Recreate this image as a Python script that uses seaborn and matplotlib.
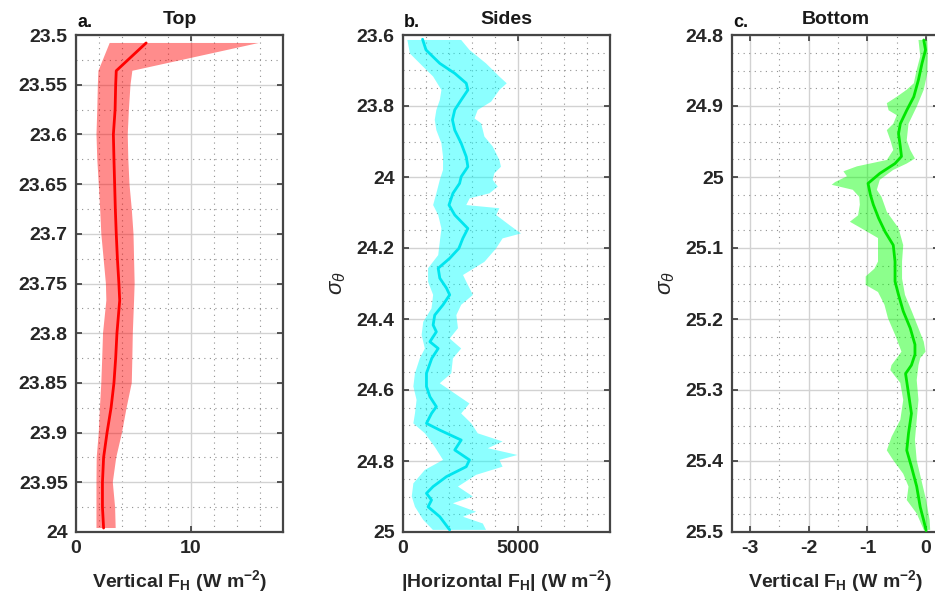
import numpy as np
import pandas as pd
import matplotlib
matplotlib.use("Agg")
import matplotlib.pyplot as plt
import seaborn as sns
from matplotlib.ticker import MultipleLocator, FuncFormatter

# ---------------- data ----------------
# Panel a (Top)
sig_a = [23.508, 23.536, 23.55, 23.575, 23.6, 23.625, 23.65, 23.675, 23.7, 23.725,
         23.75, 23.767, 23.8, 23.825, 23.85, 23.875, 23.9, 23.925, 23.95, 23.975, 23.996]
mean_a = [6.1, 3.5, 3.45, 3.4, 3.25, 3.3, 3.36, 3.42, 3.5, 3.6,
          3.73, 3.8, 3.56, 3.45, 3.3, 3.05, 2.7, 2.4, 2.3, 2.3, 2.4]
lo_a = [2.93, 1.95, 1.9, 1.85, 1.78, 1.85, 1.98, 2.1, 2.2, 2.4,
        2.6, 2.64, 2.35, 2.28, 2.2, 2.08, 1.98, 1.8, 1.78, 1.78, 1.78]
hi_a = [15.9, 4.9, 4.74, 4.6, 4.5, 4.55, 4.65, 4.85, 5.0, 5.05,
        5.1, 5.05, 4.94, 4.9, 4.85, 4.4, 4.0, 3.5, 3.2, 3.4, 3.45]

# Panel b (Sides)
sig_b = [23.612, 23.642, 23.68, 23.708, 23.736, 23.755, 23.783, 23.811, 23.839, 23.868,
         23.905, 23.943, 23.971, 23.999, 24.018, 24.046, 24.079, 24.107, 24.145, 24.173,
         24.201, 24.229, 24.257, 24.285, 24.313, 24.332, 24.360, 24.389, 24.417, 24.436,
         24.464, 24.483, 24.511, 24.553, 24.59, 24.619, 24.647, 24.666, 24.694, 24.713,
         24.741, 24.769, 24.797, 24.816, 24.844, 24.872, 24.891, 24.91, 24.929, 24.957, 24.994]
mean_b = [850, 1000, 1600, 2250, 2750, 2820, 2530, 2250, 2150, 2250,
          2530, 2750, 2820, 2530, 2460, 2170, 2000, 2250, 2820, 2600,
          2430, 2030, 1530, 1600, 1890, 2030, 1740, 1380, 1310, 1450,
          1170, 1530, 1250, 1020, 1020, 1170, 1450, 1240, 1020, 1600,
          2530, 2250, 2890, 2750, 1890, 1310, 1020, 1240, 1090, 1600, 2030]
sig_lo_b = [23.614, 23.652, 23.68, 23.717, 23.755, 23.783, 23.811, 23.839, 23.868, 23.905,
            23.943, 23.98, 24.008, 24.046, 24.079, 24.107, 24.145, 24.182, 24.22, 24.257,
            24.295, 24.332, 24.370, 24.408, 24.445, 24.483, 24.511, 24.553, 24.59, 24.628,
            24.666, 24.694, 24.722, 24.76, 24.797, 24.825, 24.863, 24.9, 24.929, 24.966, 24.994]
lo_b = [190, 300, 730, 1310, 1670, 1600, 1450, 1380, 1450, 1670,
        1740, 1740, 1600, 1450, 1310, 1530, 1670, 1600, 1530, 1090,
        1090, 1310, 1240, 880, 810, 950, 730, 520, 450, 590,
        520, 450, 950, 1380, 1740, 950, 450, 380, 520, 880, 1300]
sig_hi_b = [23.614, 23.642, 23.68, 23.717, 23.736, 23.755, 23.788, 23.811, 23.835, 23.849,
            23.886, 23.914, 23.952, 23.971, 23.99, 24.008, 24.027, 24.046, 24.06, 24.079,
            24.088, 24.107, 24.135, 24.159, 24.173, 24.201, 24.239, 24.276, 24.304, 24.332,
            24.36, 24.389, 24.426, 24.455, 24.483, 24.511, 24.553, 24.581, 24.619, 24.638,
            24.666, 24.694, 24.722, 24.745, 24.764, 24.783, 24.797, 24.816, 24.839, 24.872,
            24.9, 24.919, 24.943, 24.957, 24.976, 24.994]
hi_b = [2530, 2890, 3610, 4190, 4510, 4190, 3830, 3250, 3110, 3400,
        3540, 3900, 4190, 4260, 3970, 3900, 4120, 3760, 2900, 2750,
        4190, 4050, 4620, 5130, 4330, 4050, 3540, 2610, 2820, 3040,
        2530, 2320, 2390, 2030, 2530, 2170, 2100, 1600, 2460, 2890,
        2530, 2970, 3250, 4330, 3690, 4980, 4190, 4330, 3180, 2390,
        3040, 2170, 3180, 2610, 3470, 3610]

# Panel c (Bottom)
sig_c = [24.807, 24.821, 24.84, 24.863, 24.887, 24.906, 24.925, 24.939, 24.957, 24.971,
         24.981, 24.995, 25.009, 25.025, 25.039, 25.058, 25.077, 25.096, 25.119, 25.147,
         25.166, 25.189, 25.213, 25.236, 25.25, 25.265, 25.277, 25.305, 25.333, 25.361,
         25.385, 25.408, 25.436, 25.465, 25.484, 25.498]
mean_c = [-0.04, -0.01, -0.07, -0.13, -0.21, -0.33, -0.44, -0.47, -0.44, -0.42,
          -0.53, -0.79, -0.99, -0.95, -0.9, -0.81, -0.7, -0.56, -0.53, -0.53,
          -0.47, -0.39, -0.27, -0.19, -0.19, -0.25, -0.35, -0.3, -0.25, -0.3,
          -0.33, -0.25, -0.16, -0.1, -0.04, 0.0]
sig_lo_c = [24.807, 24.83, 24.849, 24.868, 24.877, 24.887, 24.896, 24.906, 24.913, 24.925,
            24.934, 24.948, 24.962, 24.976, 24.985, 24.992, 24.999, 25.007, 25.011, 25.018,
            25.028, 25.039, 25.054, 25.063, 25.072, 25.086, 25.105, 25.119, 25.129, 25.14,
            25.152, 25.162, 25.18, 25.199, 25.222, 25.246, 25.265, 25.272, 25.29, 25.314,
            25.342, 25.366, 25.385, 25.399, 25.418, 25.436, 25.455, 25.474, 25.497]
lo_c = [-0.13, -0.10, -0.16, -0.21, -0.33, -0.50, -0.67, -0.64, -0.50, -0.56,
        -0.67, -0.61, -0.56, -0.67, -1.18, -1.41, -1.35, -1.55, -1.61, -1.25,
        -1.14, -1.13, -1.16, -1.30, -1.11, -0.82, -0.82, -0.82, -0.88, -1.03,
        -1.03, -0.82, -0.71, -0.65, -0.53, -0.42, -0.59, -0.61, -0.44, -0.39,
        -0.44, -0.59, -0.67, -0.56, -0.39, -0.30, -0.33, -0.16, -0.04]
sig_hi_c = [24.807, 24.83, 24.854, 24.877, 24.901, 24.925, 24.948, 24.962, 24.974, 24.981,
            24.99, 25.004, 25.018, 25.028, 25.049, 25.072, 25.096, 25.119, 25.143, 25.166,
            25.19, 25.213, 25.232, 25.246, 25.255, 25.265, 25.286, 25.314, 25.342, 25.37,
            25.399, 25.427, 25.455, 25.483, 25.497]
hi_c = [0.02, 0.03, 0.02, -0.04, -0.16, -0.30, -0.33, -0.27, -0.19, -0.33,
        -0.56, -0.79, -0.84, -0.76, -0.67, -0.47, -0.39, -0.41, -0.41, -0.36,
        -0.24, -0.13, -0.04, -0.01, -0.10, -0.13, -0.16, -0.13, -0.16, -0.19,
        -0.16, -0.08, 0.0, 0.06, 0.07]

titles = ["Top", "Sides", "Bottom"]
letters = ["a.", "b.", "c."]
xlabels = [r"Vertical F$_\mathrm{H}$ (W m$^\mathrm{-2}$)",
           r"|Horizontal F$_\mathrm{H}$| (W m$^\mathrm{-2}$)",
           r"Vertical F$_\mathrm{H}$ (W m$^\mathrm{-2}$)"]

# ---------------- style ----------------
sns.set_theme(style="ticks")
plt.rcParams["font.family"] = ["Liberation Sans", "DejaVu Sans"]
plt.rcParams["font.weight"] = "bold"
plt.rcParams["mathtext.fontset"] = "custom"
plt.rcParams["mathtext.rm"] = "Liberation Sans:bold"
plt.rcParams["mathtext.bf"] = "Liberation Sans:bold"
plt.rcParams["mathtext.it"] = "Liberation Sans:italic:normal"
plt.rcParams["mathtext.sf"] = "Liberation Sans:bold"

fig = plt.figure(figsize=(9.35, 6.07), dpi=100)
W, H = 935, 607
bottom = 1 - 532 / H
height = (532 - 35) / H
width = 207 / W
lefts = [76 / W, 403 / W, 732 / W]
axes = [fig.add_axes([l, bottom, width, height]) for l in lefts]

fmt = FuncFormatter(lambda v, p: f"{round(v, 4):g}")

specs = [
    dict(xlim=(0, 18), ylim=(24.0, 23.5), xmaj=10, xmin=2, ymaj=0.05, ymin=0.025),
    dict(xlim=(0, 9000), ylim=(25.0, 23.6), xmaj=5000, xmin=1000, ymaj=0.2, ymin=0.05),
    dict(xlim=(-3.31, 0.22), ylim=(25.5, 24.8), xmaj=1, xmin=0.5, ymaj=0.1, ymin=0.025),
]

series = [
    (sig_a, mean_a, sig_a, lo_a, sig_a, hi_a, "#ff0000"),
    (sig_b, mean_b, sig_lo_b, lo_b, sig_hi_b, hi_b, "#00e5ee"),
    (sig_c, mean_c, sig_lo_c, lo_c, sig_hi_c, hi_c, "#00e600"),
]
fills = ["#ff0000", "#00ffff", "#00ff00"]

for i, ax in enumerate(axes):
    sm, mv, sl, lv, sh, hv, lc = series[i]
    px = list(lv) + list(hv)[::-1]
    py = list(sl) + list(sh)[::-1]
    ax.fill(px, py, color=fills[i], alpha=0.45, lw=0, zorder=2)
    df = pd.DataFrame({"x": mv, "y": sm})
    sns.lineplot(data=df, x="x", y="y", orient="y", sort=True, ax=ax,
                 color=lc, lw=2.0, zorder=3)
    s = specs[i]
    ax.set_xlim(*s["xlim"])
    ax.set_ylim(*s["ylim"])
    ax.xaxis.set_major_locator(MultipleLocator(s["xmaj"]))
    ax.xaxis.set_minor_locator(MultipleLocator(s["xmin"]))
    ax.yaxis.set_major_locator(MultipleLocator(s["ymaj"]))
    ax.yaxis.set_minor_locator(MultipleLocator(s["ymin"]))
    ax.xaxis.set_major_formatter(fmt)
    ax.yaxis.set_major_formatter(fmt)
    ax.set_axisbelow(True)
    ax.grid(which="major", color="#d2d2d2", lw=1.0, ls="-")
    ax.grid(which="minor", color="#909090", lw=0.8, ls=(0, (1, 4)))
    ax.tick_params(which="major", direction="in", length=4, width=1.2,
                   top=True, right=True, colors="#3a3a3a", labelcolor="#262626",
                   labelsize=14, pad=6)
    ax.tick_params(which="minor", length=0)
    for sp in ax.spines.values():
        sp.set_color("#454545")
        sp.set_linewidth(1.6)
    ax.set_xlabel(xlabels[i], fontsize=14, fontweight="bold", color="#262626", labelpad=8)
    if i == 0:
        ax.set_ylabel("")
    else:
        ax.set_ylabel(r"$\sigma_\theta$", fontsize=16, fontweight="normal",
                      color="#262626", labelpad=6)
    ax.set_title(titles[i], fontsize=14, fontweight="bold", color="#1a1a1a", pad=8)
    ax.text(0.005, 1.008, letters[i], transform=ax.transAxes, ha="left", va="bottom",
            fontsize=13, fontweight="bold", color="#111111")
    if ax.get_legend() is not None:
        ax.get_legend().remove()

fig.savefig("out.png", dpi=100)
